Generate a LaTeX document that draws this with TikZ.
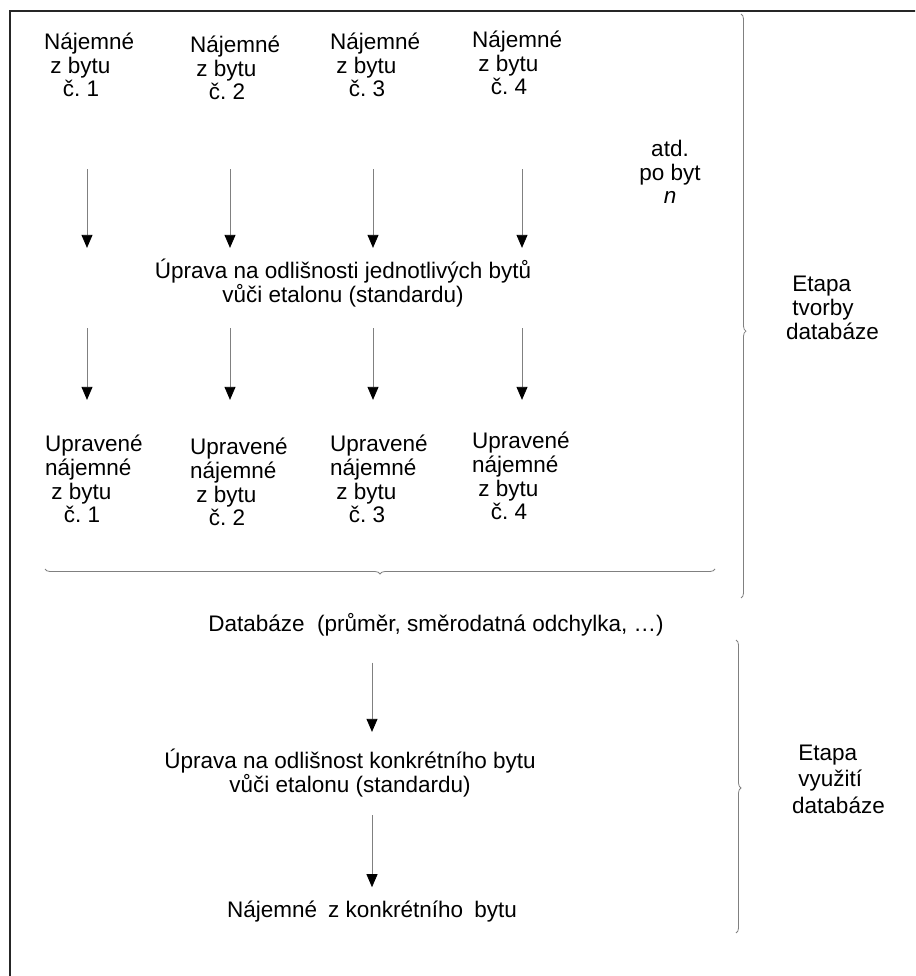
\documentclass[tikz,border=0pt]{standalone}
\usepackage{fontspec}
\setmainfont{Liberation Sans}
\usetikzlibrary{arrows.meta,positioning,decorations.pathreplacing}
\frenchspacing

\begin{document}
\begin{tikzpicture}[x=1pt,y=-1pt,>=Latex,
  txt/.style={align=center,inner sep=0pt,font=\fontsize{22.5}{23.7}\selectfont},
  ltxt/.style={txt,align=left,anchor=west},
  arr/.style={-{Triangle[length=13pt,width=11pt,black]},draw=black!50,line width=0.8pt},
  brc/.style={decorate,decoration={brace,amplitude=5pt,aspect=#1},draw=black!50,line width=0.8pt},
  brc/.default=0.5]
\useasboundingbox (0,0) rectangle (915,976);
\clip (0,0) rectangle (915,976);
\draw[line width=2.6pt,black!85] (10,11) rectangle (960,1020);
% rents per flat
\node[ltxt] (n1) at (44,65) {Nájemné\\\ z bytu\\\ \ \ č. 1};
\node[ltxt] (n2) at (190,68) {Nájemné\\\ z bytu\\\ \ \ č. 2};
\node[ltxt] (n3) at (330,65) {Nájemné\\\ z bytu\\\ \ \ č. 3};
\node[ltxt] (n4) at (472,63) {Nájemné\\\ z bytu\\\ \ \ č. 4};
\node[txt] (atd) at (670,172) {atd.\\po byt\\\textit{n}};
\node[txt] (u1) at (343,283) {Úprava na odlišnosti jednotlivých bytů\\vůči etalonu (standardu)};
\node[ltxt] (p1) at (45,479) {Upravené\\nájemné\\\ z bytu\\\ \ \ č. 1};
\node[ltxt] (p2) at (190,482) {Upravené\\nájemné\\\ z bytu\\\ \ \ č. 2};
\node[ltxt] (p3) at (330,479) {Upravené\\nájemné\\\ z bytu\\\ \ \ č. 3};
\node[ltxt] (p4) at (472,476) {Upravené\\nájemné\\\ z bytu\\\ \ \ č. 4};
\foreach \i/\x in {1/87,2/230,3/373,4/522}{
  \draw[arr,shorten >=11pt] ([yshift=-72pt]n1.south -| \x,0) -- (u1.north -| \x,0);
  \draw[arr,shorten >=35pt] ([yshift=-21pt]u1.south -| \x,0) -- (p1.north -| \x,0);
}
\node[txt] (db) at (436,625) {Databáze\ \ (průměr, směrodatná odchylka, …)};
\draw[brc] (715,569) -- (45,569);
% use of database
\node[txt] (u2) at (350,773) {Úprava na odlišnost konkrétního bytu\\vůči etalonu (standardu)};
\node[txt] (kb) at (372,912) {Nájemné\hspace{11pt}z konkrétního\hspace{11pt}bytu};
\draw[arr,shorten >=17pt] ([yshift=-26pt]db.south -| kb) -- (u2.north -| kb);
\draw[arr,shorten >=14pt] ([yshift=-18pt]u2.south -| kb) -- (kb.north);
% stages
\draw[brc=0.543] (741,14) -- (741,598);
\node[ltxt] (e1) at (786,308) {\ Etapa\\\ tvorby\\databáze};
\draw[brc=0.505] (736,640) -- (736,933);
\node[ltxt,font=\fontsize{22.5}{26.5}\selectfont] (e2) at (792,779) {\ Etapa\\\ využití\\databáze};
\end{tikzpicture}
\end{document}
